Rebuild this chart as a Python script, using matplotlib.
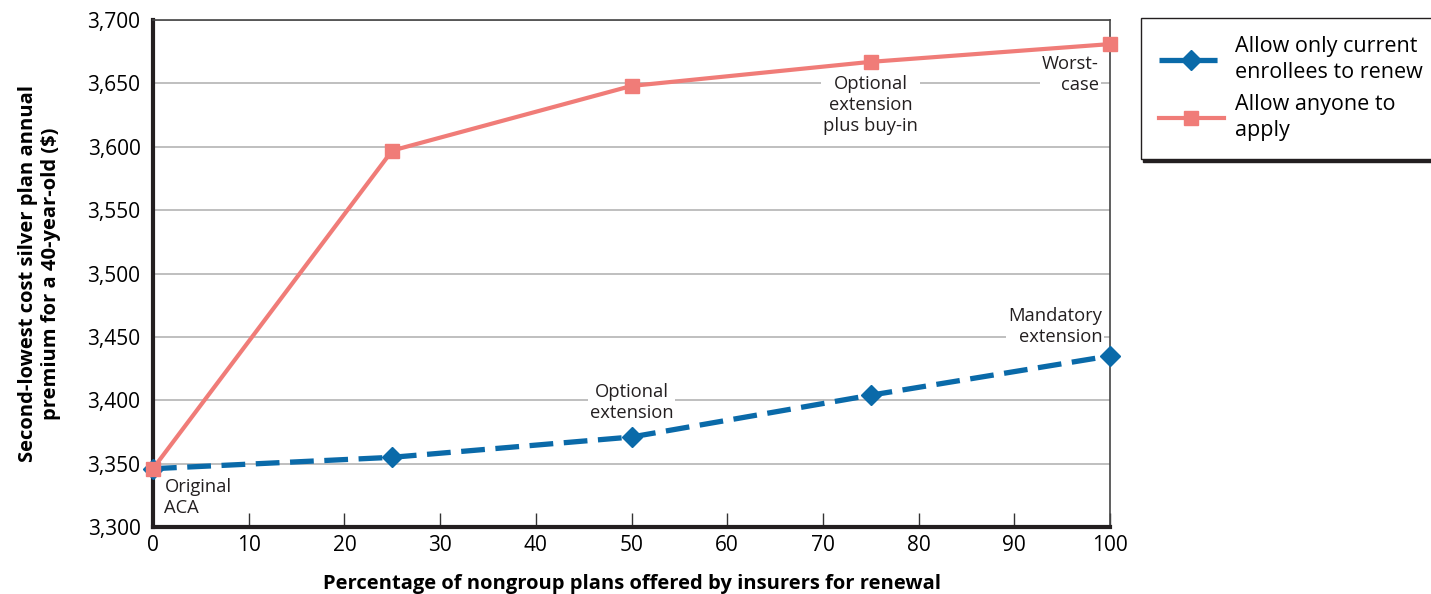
import matplotlib.pyplot as plt

plt.rcParams['font.family'] = ['Open Sans', 'DejaVu Sans']

pct = [0, 25, 50, 75, 100]
current_only = [3346, 3355, 3371, 3404, 3435]
anyone = [3346, 3597, 3648, 3667, 3681]

blue = '#0a6aa9'
red = '#f07c78'

fig = plt.figure(figsize=(14.31, 5.94), dpi=100)
ax = fig.add_axes([0.1069, 0.1128, 0.6688, 0.8535])

ax.plot(pct, current_only, color=blue, lw=3.8, ls=(0, (4.5, 2)), marker='D',
        markersize=10, zorder=4, clip_on=False,
        label='Allow only current\nenrollees to renew')
ax.plot(pct, anyone, color=red, lw=3, marker='s', markersize=10, zorder=5,
        clip_on=False, label='Allow anyone to\napply')

ax.set_xlim(0, 100)
ax.set_ylim(3300, 3700)
ax.set_xticks(range(0, 101, 10))
ax.set_yticks(range(3300, 3701, 50))
ax.set_yticklabels([f'{v:,}' for v in range(3300, 3701, 50)])
ax.yaxis.grid(True, color='#b4b4b4', lw=1.2)
ax.set_axisbelow(True)
ax.tick_params(axis='x', direction='in', length=10, width=1, color='#333333',
               labelsize=15, pad=6)
ax.tick_params(axis='y', length=0, labelsize=15, pad=9)

for s in ['left', 'bottom']:
    ax.spines[s].set_linewidth(3)
    ax.spines[s].set_color('#231f20')
for s in ['top', 'right']:
    ax.spines[s].set_linewidth(1.2)
    ax.spines[s].set_color('#444444')

ax.set_xlabel('Percentage of nongroup plans offered by insurers for renewal',
              fontsize=14.5, fontweight='bold', labelpad=13)
ax.set_ylabel('Second-lowest cost silver plan annual\npremium for a 40-year-old ($)',
              fontsize=14.5, fontweight='bold', labelpad=19, linespacing=1.2)

box = dict(facecolor='white', edgecolor='none', pad=1.5)
note = dict(fontsize=13.2, color='#231f20', linespacing=1.2, zorder=3)
ax.text(1.2, 3323, 'Original\nACA', ha='left', va='center', **note)
ax.text(50, 3398, 'Optional\nextension', ha='center', va='center', bbox=box, **note)
ax.text(99.2, 3458, 'Mandatory\nextension', ha='right', va='center', bbox=box, **note)
ax.text(75, 3633, 'Optional\nextension\nplus buy-in', ha='center', va='center', bbox=box, **note)
ax.text(98.8, 3657, 'Worst-\ncase', ha='right', va='center', bbox=box, **note)

leg = ax.legend(loc='upper left', bbox_to_anchor=(1.032, 1.004), fontsize=15.5,
                frameon=True, fancybox=False, edgecolor='#231f20',
                borderpad=0.85, borderaxespad=0, handlelength=3.0,
                labelspacing=0.5, handletextpad=0.55,
                shadow={'color': '#231f20', 'alpha': 1})
leg.get_frame().set_linewidth(1)
for t in leg.get_texts():
    t.set_linespacing(1.3)

fig.savefig('out.png', dpi=100)
